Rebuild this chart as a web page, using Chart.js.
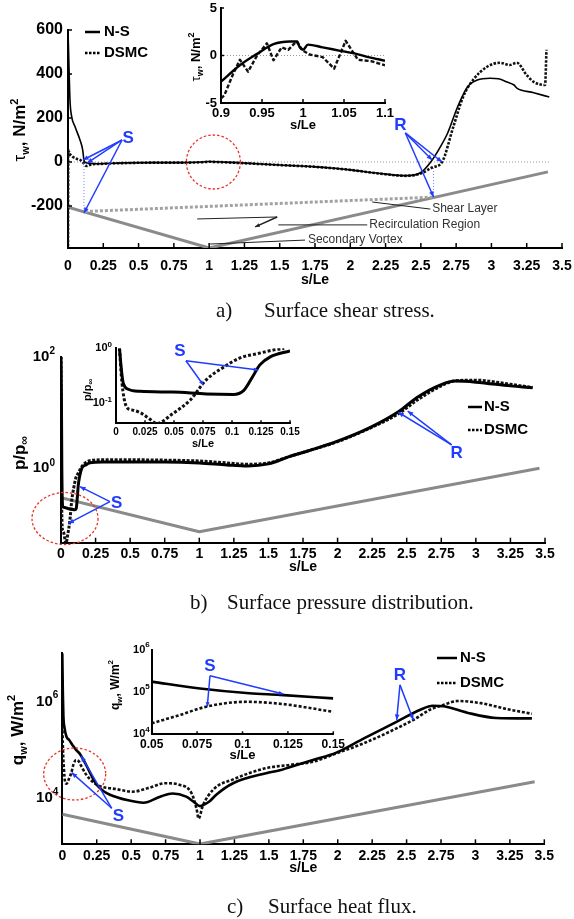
<!DOCTYPE html>
<html><head><meta charset="utf-8">
<style>
html,body{margin:0;padding:0;background:#fff;}
body{width:574px;height:919px;position:relative;overflow:hidden;}
canvas{position:absolute;left:0;top:0;}
.cap{position:absolute;font-family:"Liberation Serif","Times New Roman",serif;font-size:21px;line-height:24px;color:#111;white-space:pre;}
</style>
<script src="https://cdn.jsdelivr.net/npm/chart.js@4/dist/chart.umd.min.js"></script>
</head><body>
<canvas id="ca" width="574" height="919"></canvas>
<canvas id="cai" width="574" height="919"></canvas>
<canvas id="cb" width="574" height="919"></canvas>
<canvas id="cbi" width="574" height="919"></canvas>
<canvas id="cc" width="574" height="919"></canvas>
<canvas id="cci" width="574" height="919"></canvas>
<div class="cap" style="left:216px;top:298px">a)</div><div class="cap" style="left:264px;top:298px">Surface shear stress.</div>
<div class="cap" style="left:190px;top:590px">b)</div><div class="cap" style="left:227px;top:590px">Surface pressure distribution.</div>
<div class="cap" style="left:227px;top:894px">c)</div><div class="cap" style="left:268px;top:894px">Surface heat flux.</div>
<script>
// ================= DATA =================
// (a) wall shear stress tau_w [N/m^2] vs s/Le
const aNsS   = [0,0.007,0.014,0.026,0.05,0.085,0.104,0.113,0.125,0.15,0.2,0.4,0.6,0.8,0.95,1.0,1.05,1.2,1.5,1.75,1.86,2.0,2.21,2.4,2.5,2.57,2.63,2.69,2.76,2.83,2.9,2.99,3.05,3.11,3.16,3.18,3.3,3.41];
const aNsTau = [600,433,282,206,160,100,55,9,-3,-6,-8,-4,-3,-3,0,2,1,-3,-14,-22,-27,-36,-52,-62,-48,0,60,132,250,341,373,381,378,364,350,336,315,295];
const aDsS   = [0,0.002,0.01,0.03,0.06,0.09,0.11,0.13,0.16,0.25,0.4,0.6,0.8,0.95,1.0,1.05,1.2,1.5,1.75,2.0,2.2,2.4,2.5,2.58,2.65,2.73,2.8,2.87,2.97,3.06,3.13,3.18,3.25,3.3,3.38,3.39];
const aDsTau = [-400,55,40,25,15,8,-5,-18,-12,-8,-5,-3,-3,-1,1,0,-4,-14,-22,-36,-52,-63,-52,-25,0,160,297,373,433,451,441,451,395,364,350,510];
const aGeoS  = [0,1,3.4];
const aGeoY  = [-205,-391,-45];
const aShearS = [0.12,2.58];
const aShearY = [-225,-160];
const aZeroS = [0,3.42];
const aXTicks = [0,0.25,0.5,0.75,1,1.25,1.5,1.75,2,2.25,2.5,2.75,3,3.25,3.5];
const aYTicks = [-200,0,200,400,600];
// (a) inset
const aiNsS   = [0.9,0.923,0.944,0.964,0.984,0.993,0.996,1.0,1.006,1.024,1.044,1.065,1.08,1.1];
const aiNsTau = [-2.76,-1.03,0.17,1.2,1.48,1.48,0.86,0.6,1.14,0.86,0.52,0.17,-0.17,-0.55];
const aiDsS   = [0.9,0.904,0.915,0.923,0.933,0.944,0.956,0.964,0.974,0.982,0.992,1.0,1.008,1.024,1.038,1.052,1.067,1.083,1.1];
const aiDsTau = [-4.5,-4.2,-1.9,-0.45,-1.7,0,1.28,-0.5,0.86,0.6,1.48,0.5,0.1,-0.17,-1.38,1.55,-0.45,-0.6,-1.03];
const aiZeroS = [0.9,1.1];
const aiXTicks = [0.9,0.95,1,1.05,1.1];
const aiYTicks = [-5,0,5];
// (b) pressure p/p_inf
const bNsS = [0,0.003,0.006,0.008,0.012,0.02,0.05,0.08,0.1,0.11,0.118,0.125,0.135,0.15,0.18,0.21,0.3,0.5,0.75,1.0,1.2,1.35,1.5,1.66,1.8,1.99,2.23,2.44,2.58,2.75,2.85,3.0,3.25,3.41];
const bNsP = [100,20,1.0,0.35,0.21,0.2,0.19,0.185,0.18,0.19,0.3,0.5,0.72,1.0,1.15,1.25,1.3,1.3,1.3,1.25,1.15,1.1,1.2,1.65,2.1,3.0,5.3,10.3,19,31.7,36.5,35,30,27.7];
const bDsS = [0,0.002,0.005,0.009,0.0135,0.021,0.028,0.035,0.049,0.064,0.078,0.0925,0.107,0.121,0.139,0.16,0.2,0.3,0.5,0.75,1.0,1.2,1.35,1.5,1.66,1.8,2.0,2.23,2.44,2.58,2.75,2.85,3.0,3.25,3.41];
const bDsP = [100,5,0.25,0.087,0.076,0.068,0.054,0.045,0.065,0.115,0.27,0.45,0.67,0.79,0.96,1.15,1.35,1.42,1.42,1.4,1.35,1.25,1.18,1.25,1.65,2.1,3.0,5.2,9.5,17,30,37,38,32,28];
const bGeoS = [0,1,3.46];
const bGeoP = [0.297,0.073,1.0];
const bXTicks = aXTicks;
const bYExp = [0,2];
// (b) inset
const biNsS = [0.003,0.005,0.0063,0.0106,0.0207,0.049,0.078,0.101,0.11,0.118,0.124,0.133,0.15];
const biNsP = [1.0,0.35,0.23,0.18,0.165,0.16,0.148,0.145,0.17,0.31,0.5,0.7,0.9];
const biDsS = [0.003,0.005,0.009,0.0135,0.0207,0.028,0.035,0.049,0.064,0.078,0.0925,0.107,0.121,0.139,0.145];
const biDsP = [1.0,0.25,0.087,0.076,0.068,0.054,0.043,0.065,0.115,0.27,0.45,0.67,0.79,0.96,0.99];
const biXTicks = [0,0.025,0.05,0.075,0.1,0.125,0.15];
const biYExp = [-1,0];
// (c) heat flux q_w [W/m^2]
const cNsS = [0,0.004,0.008,0.015,0.03,0.05,0.075,0.1,0.125,0.15,0.18,0.21,0.25,0.3,0.35,0.47,0.59,0.71,0.8,0.9,0.96,1.0,1.03,1.07,1.12,1.24,1.48,1.58,1.65,1.82,1.99,2.19,2.43,2.6,2.69,2.77,2.94,3.15,3.41];
const cNsQ = [1e7,1.5e6,5e5,3e5,1.9e5,1.6e5,1.25e5,1.0e5,8.5e4,6.5e4,4.5e4,3e4,1.9e4,1.4e4,1.17e4,9200,8100,10800,12600,10800,8200,6900,7400,8700,12000,20500,33000,38000,44000,62000,88000,174000,386000,680000,820000,800000,590000,460000,450000];
const cDsS = [0,0.005,0.012,0.02,0.03,0.05,0.066,0.08,0.1,0.12,0.14,0.17,0.22,0.27,0.39,0.51,0.63,0.75,0.85,0.94,0.975,0.99,1.02,1.1,1.24,1.48,1.65,1.82,1.99,2.19,2.43,2.55,2.67,2.77,2.87,3.04,3.23,3.41];
const cDsQ = [4e5,1e5,4e4,2.2e4,2.0e4,2.6e4,3.4e4,4.9e4,6.2e4,5.8e4,4.5e4,3.2e4,2.2e4,1.8e4,1.55e4,1.37e4,1.65e4,2.05e4,1.9e4,1.25e4,6000,3800,7000,15500,24600,42000,49000,57000,85000,138000,282000,420000,680000,860000,1030000,930000,700000,560000];
const cGeoS = [0,1,3.43];
const cGeoQ = [4660,1130,22000];
const cXTicks = aXTicks;
const cYExp = [4,6];
// (c) inset
const ciNsS = [0.05,0.0766,0.1037,0.1206,0.15];
const ciNsQ = [1.78e5,1.22e5,9.4e4,8.6e4,7.1e4];
const ciDsS = [0.05,0.0655,0.08,0.102,0.1225,0.15];
const ciDsQ = [1.82e4,2.87e4,4.52e4,5.9e4,5.2e4,3.4e4];
const ciXTicks = [0.05,0.075,0.1,0.125,0.15];
const ciYExp = [4,5,6];

// ================= HELPERS =================
const FF = '"Liberation Sans", Arial, sans-serif';
const BLUE = '#1f3cff', RED = '#e8332a', GEO = '#8a8a8a';
const f = (sz, b) => (b ? 'bold ' : '') + sz + 'px ' + FF;

function pts(xs, ys){ return xs.map((x,i)=>({x:x, y:ys[i]})); }
function line(xs, ys, color, width, dash, smooth){
  return {data:pts(xs,ys), borderColor:color, borderWidth:width, borderDash:dash||[],
    pointRadius:0, fill:false, tension: smooth===false?0:0.4,
    cubicInterpolationMode: smooth===false?'default':'monotone',
    borderCapStyle:'butt', borderJoinStyle:'round'};
}
function P(c, x, y){ return [c.scales.x.getPixelForValue(x), c.scales.y.getPixelForValue(y)]; }
function rich(ctx, parts, x, y, rot, align){
  ctx.save(); ctx.translate(x,y); if(rot) ctx.rotate(rot);
  ctx.textBaseline='alphabetic'; ctx.textAlign='left'; ctx.fillStyle='#000';
  let w=0; parts.forEach(p=>{ctx.font=p[1]; w+=ctx.measureText(p[0]).width;});
  let cx = align==='left'?0:(align==='right'?-w:-w/2);
  parts.forEach(p=>{ctx.font=p[1]; ctx.fillText(p[0],cx,p[2]); cx+=ctx.measureText(p[0]).width;});
  ctx.restore();
}
function text(ctx, s, x, y, font, color, align){
  ctx.save(); ctx.font=font; ctx.fillStyle=color||'#000'; ctx.textAlign=align||'left'; ctx.textBaseline='middle';
  ctx.fillText(s,x,y); ctx.restore();
}
function seg(ctx, a, b, color, w, dash){
  ctx.save(); ctx.strokeStyle=color; ctx.lineWidth=w; ctx.setLineDash(dash||[]);
  ctx.beginPath(); ctx.moveTo(a[0],a[1]); ctx.lineTo(b[0],b[1]); ctx.stroke(); ctx.restore();
}
function arrow(ctx, a, b, color, head){
  head = head||6;
  seg(ctx, a, b, color, 1.5);
  const t=Math.atan2(b[1]-a[1], b[0]-a[0]);
  ctx.save(); ctx.fillStyle=color; ctx.beginPath(); ctx.moveTo(b[0],b[1]);
  ctx.lineTo(b[0]-head*Math.cos(t-0.4), b[1]-head*Math.sin(t-0.4));
  ctx.lineTo(b[0]-head*Math.cos(t+0.4), b[1]-head*Math.sin(t+0.4));
  ctx.closePath(); ctx.fill(); ctx.restore();
}
function ellipse(ctx, c, rx, ry){
  ctx.save(); ctx.strokeStyle=RED; ctx.lineWidth=1.3; ctx.setLineDash([2.5,2]);
  ctx.beginPath(); ctx.ellipse(c[0],c[1],rx,ry,0,0,Math.PI*2); ctx.stroke(); ctx.restore();
}
function xTicksIn(c, len){
  const ctx=c.ctx, xs=c.scales.x, a=c.chartArea;
  ctx.save(); ctx.strokeStyle='#000'; ctx.lineWidth=1.5;
  xs.ticks.forEach(t=>{const px=xs.getPixelForValue(t.value); ctx.beginPath(); ctx.moveTo(px,a.bottom); ctx.lineTo(px,a.bottom-len); ctx.stroke();});
  ctx.restore();
}
function yTicksIn(c, vals, len){
  const ctx=c.ctx, ys=c.scales.y, a=c.chartArea;
  ctx.save(); ctx.strokeStyle='#000'; ctx.lineWidth=1.5;
  vals.forEach(v=>{const py=ys.getPixelForValue(v); ctx.beginPath(); ctx.moveTo(a.left,py); ctx.lineTo(a.left+len,py); ctx.stroke();});
  ctx.restore();
}
function logLabels(c, exps, sz, ssz, pad, sdy){
  const ctx=c.ctx, ys=c.scales.y, a=c.chartArea;
  ctx.save(); ctx.fillStyle='#000'; ctx.textBaseline='middle'; ctx.textAlign='left';
  exps.forEach(e=>{
    const py=ys.getPixelForValue(Math.pow(10,e));
    ctx.font=f(ssz,true); const ws=ctx.measureText(String(e)).width;
    ctx.font=f(sz,true); const wb=ctx.measureText('10').width;
    const x0=a.left-pad-ws-wb;
    ctx.fillText('10',x0,py); ctx.font=f(ssz,true); ctx.fillText(String(e),x0+wb,py+sdy);
  });
  ctx.restore();
}
function legend(ctx, x1, x2, y1, y2, tx, sz, lw){
  seg(ctx,[x1,y1],[x2,y1],'#000',lw);
  seg(ctx,[x1,y2],[x2,y2],'#000',lw,[2.5,1.5]);
  text(ctx,'N-S',tx,y1,f(sz,true));
  text(ctx,'DSMC',tx,y2,f(sz,true));
}

function build(id, area, o){
  const YW=o.yw||44, XH=22;
  return new Chart(document.getElementById(id), {
    type:'line',
    data:{datasets:o.datasets},
    options:{
      responsive:false, animation:false, devicePixelRatio:1,
      layout:{padding:{left:area.l-YW, top:area.t, right:574-area.r, bottom:919-area.b-XH}},
      plugins:{legend:{display:false}, tooltip:{enabled:false}},
      elements:{point:{radius:0}},
      scales:{
        x:{type:'linear', min:o.xmin, max:o.xmax,
          grid:{display:false, drawTicks:false},
          border:{display:true, color:'#000', width:2},
          ticks:{color:'#000', font:{family:FF, size:o.xfs, weight:'bold'}, padding:o.xpad, maxRotation:0, autoSkip:false, callback:v=>String(v)},
          afterBuildTicks:s=>{s.ticks=o.xticks.map(v=>({value:v}));},
          afterFit:s=>{s.height=XH; s.paddingLeft=0; s.paddingRight=0;}},
        y:{type:o.ytype||'linear', min:o.ymin, max:o.ymax,
          grid:{display:false, drawTicks:false},
          border:{display:true, color:'#000', width:2},
          ticks:{display:!o.log, color:'#000', font:{family:FF, size:o.yfs||12, weight:'bold'}, padding:o.ypad||4, autoSkip:false, callback:v=>String(v)},
          afterBuildTicks:s=>{s.ticks=o.yticks.map(v=>({value:v}));},
          afterFit:s=>{s.width=YW; s.paddingTop=0; s.paddingBottom=0;}}
      }
    },
    plugins:[{id:'deco', afterDraw:c=>o.draw(c)}]
  });
}

// ================= PANEL A =================
build('ca', {l:68,t:30,r:562,b:248}, {
  xmin:0, xmax:3.5, ymin:-391, ymax:600, xticks:aXTicks, yticks:aYTicks,
  xfs:14, xpad:10, yfs:16, ypad:5,
  datasets:[
    line(aNsS,aNsTau,'#000',1.6),
    line(aDsS,aDsTau,'#111',2.6,[2.5,1.5]),
    line(aZeroS,[0,0],'#999',1,[1,2],false),
    line(aShearS,aShearY,'#a2a2a2',3,[3,2],false),
    line(aGeoS,aGeoY,GEO,3,[],false)
  ],
  draw:c=>{
    const ctx=c.ctx, a=c.chartArea;
    xTicksIn(c,5); yTicksIn(c,aYTicks,4);
    rich(ctx,[['τ',f(17,false),5],['w',f(11,true),9],[', N/m',f(17,true),5],['2',f(11,true),-2]],20,130,-Math.PI/2,'center');
    text(ctx,'s/Le',(a.left+a.right)/2,280,f(14,true),'#000','center');
    legend(ctx,85,100,32,53,104,15,2.5);
    // blue dotted guides
    seg(ctx,P(c,0.113,-5),P(c,0.113,-232),'#6d7dff',1,[1,2]);
    seg(ctx,P(c,2.59,-27),P(c,2.59,-159),'#6d7dff',1,[1,2]);
    // S
    let o=P(c,0.383,100);
    arrow(ctx,o,P(c,0.106,9),BLUE); arrow(ctx,o,P(c,0.135,-5),BLUE); arrow(ctx,o,P(c,0.113,-232),BLUE);
    let l=P(c,0.426,109); text(ctx,'S',l[0],l[1],f(17,true),BLUE,'center');
    // R
    o=P(c,2.39,132);
    arrow(ctx,o,P(c,2.58,9),BLUE); arrow(ctx,o,P(c,2.65,0),BLUE); arrow(ctx,o,P(c,2.59,-159),BLUE);
    l=P(c,2.355,168); text(ctx,'R',l[0],l[1],f(17,true),BLUE,'center');
    // red circle
    ellipse(ctx,P(c,1.03,0),27,27);
    // flow annotations
    seg(ctx,P(c,2.156,-182),P(c,2.567,-214),'#222',1);
    l=P(c,2.58,-214); text(ctx,'Shear Layer',l[0],l[1],f(12,false),'#333');
    seg(ctx,P(c,0.915,-259),P(c,1.482,-250),'#222',1);
    arrow(ctx,P(c,1.482,-250),P(c,1.326,-295),'#222',5);
    seg(ctx,P(c,1.49,-286),P(c,2.12,-286),'#222',1);
    l=P(c,2.135,-286); text(ctx,'Recirculation Region',l[0],l[1],f(12,false),'#333');
    seg(ctx,P(c,1.007,-373),P(c,1.68,-355),'#222',1);
    l=P(c,1.70,-355); text(ctx,'Secondary Vortex',l[0],l[1],f(12,false),'#333');
  }
});
// inset a
build('cai', {l:221,t:8,r:385,b:103}, {
  yw:30, xmin:0.9, xmax:1.1, ymin:-5, ymax:5, xticks:aiXTicks, yticks:aiYTicks,
  xfs:13, xpad:3, yfs:13, ypad:4,
  datasets:[
    line(aiNsS,aiNsTau,'#000',2.4),
    line(aiDsS,aiDsTau,'#111',2.4,[4,2],false),
    line(aiZeroS,[0,0],'#999',1,[1,2],false)
  ],
  draw:c=>{
    const ctx=c.ctx, a=c.chartArea;
    xTicksIn(c,4); yTicksIn(c,aiYTicks,3);
    rich(ctx,[['τ',f(13,false),4],['w',f(9,true),7],[', N/m',f(13,true),4],['2',f(9,true),-2]],196,57,-Math.PI/2,'center');
    text(ctx,'s/Le',(a.left+a.right)/2,125,f(13,true),'#000','center');
  }
});

// ================= PANEL B =================
build('cb', {l:61,t:356.7,r:545,b:542.7}, {
  xmin:0, xmax:3.5, ytype:'logarithmic', ymin:0.0464, ymax:100, xticks:bXTicks, yticks:[0.1,1,10,100], log:true,
  xfs:14, xpad:3,
  datasets:[
    line(bNsS,bNsP,'#000',3),
    line(bDsS,bDsP,'#111',3,[3,1.5]),
    line(bGeoS,bGeoP,GEO,3,[],false)
  ],
  draw:c=>{
    const ctx=c.ctx, a=c.chartArea;
    xTicksIn(c,5);
    logLabels(c,bYExp,15,10,6,-5);
    rich(ctx,[['p/p',f(17,true),6],['∞',f(12,true),9]],19,453,-Math.PI/2,'center');
    text(ctx,'s/Le',(a.left+a.right)/2,567,f(14,true),'#000','center');
    legend(ctx,468,482,407,430,484,15,2.5);
    ellipse(ctx,P(c,0.029,0.126),33,26);
    let o=P(c,0.354,0.252);
    arrow(ctx,o,P(c,0.137,0.468),BLUE); arrow(ctx,o,P(c,0.053,0.103),BLUE);
    let l=P(c,0.403,0.236); text(ctx,'S',l[0],l[1],f(17,true),BLUE,'center');
    o=P(c,2.825,2.62);
    arrow(ctx,o,P(c,2.439,10.1),BLUE); arrow(ctx,o,P(c,2.507,10.6),BLUE);
    l=P(c,2.861,1.86); text(ctx,'R',l[0],l[1],f(17,true),BLUE,'center');
  }
});
// inset b
build('cbi', {l:116,t:348.3,r:290,b:423.3}, {
  yw:30, xmin:0, xmax:0.15, ytype:'logarithmic', ymin:0.0433, ymax:1, xticks:biXTicks, yticks:[0.1,1], log:true,
  xfs:10, xpad:3,
  datasets:[
    line(biNsS,biNsP,'#000',3),
    line(biDsS,biDsP,'#111',3,[3,2])
  ],
  draw:c=>{
    const ctx=c.ctx, a=c.chartArea;
    xTicksIn(c,3);
    logLabels(c,biYExp,11,8,4,-4);
    rich(ctx,[['p/p',f(11,true),4],['∞',f(8,true),6]],87,390,-Math.PI/2,'center');
    text(ctx,'s/Le',(a.left+a.right)/2,444,f(11,true),'#000','center');
    const o=P(c,0.0603,0.595);
    arrow(ctx,o,P(c,0.0753,0.215),BLUE,5); arrow(ctx,o,P(c,0.1227,0.403),BLUE,5);
    const l=P(c,0.0552,0.867); text(ctx,'S',l[0],l[1],f(17,true),BLUE,'center');
  }
});

// ================= PANEL C =================
build('cc', {l:62.3,t:653.3,r:544.3,b:844.3}, {
  xmin:0, xmax:3.5, ytype:'logarithmic', ymin:1117, ymax:1e7, xticks:cXTicks, yticks:[1e4,1e6], log:true,
  xfs:14, xpad:3,
  datasets:[
    line(cNsS,cNsQ,'#000',2.6),
    line(cDsS,cDsQ,'#111',2.6,[3,1.8]),
    line(cGeoS,cGeoQ,GEO,3,[],false)
  ],
  draw:c=>{
    const ctx=c.ctx, a=c.chartArea;
    xTicksIn(c,5);
    logLabels(c,cYExp,15,10,4,-6);
    rich(ctx,[['q',f(17,true),6],['w',f(11,true),10],[', W/m',f(17,true),6],['2',f(11,true),-2]],17,730,-Math.PI/2,'center');
    text(ctx,'s/Le',(a.left+a.right)/2,868,f(14,true),'#000','center');
    legend(ctx,437,457,658,683,460,15,2.5);
    ellipse(ctx,P(c,0.09,31800),31,26);
    let o=P(c,0.359,6210);
    arrow(ctx,o,P(c,0.136,75100),BLUE); arrow(ctx,o,P(c,0.068,33900),BLUE);
    let l=P(c,0.407,4160); text(ctx,'S',l[0],l[1],f(17,true),BLUE,'center');
    o=P(c,2.452,2.22e6);
    arrow(ctx,o,P(c,2.428,418000),BLUE); arrow(ctx,o,P(c,2.549,418000),BLUE);
    l=P(c,2.452,3.57e6); text(ctx,'R',l[0],l[1],f(17,true),BLUE,'center');
  }
});
// inset c
build('cci', {l:151.7,t:650,r:333.3,b:734.3}, {
  yw:30, xmin:0.05, xmax:0.15, ytype:'logarithmic', ymin:1e4, ymax:1e6, xticks:ciXTicks, yticks:[1e4,1e5,1e6], log:true,
  xfs:12, xpad:3,
  datasets:[
    line(ciNsS,ciNsQ,'#000',2.6),
    line(ciDsS,ciDsQ,'#111',2.6,[3,2])
  ],
  draw:c=>{
    const ctx=c.ctx, a=c.chartArea;
    xTicksIn(c,3);
    logLabels(c,ciYExp,11,8,2,-5);
    rich(ctx,[['q',f(12,true),4],['w',f(8,true),7],[', W/m',f(12,true),4],['2',f(8,true),-2]],115,685,-Math.PI/2,'center');
    text(ctx,'s/Le',(a.left+a.right)/2,755,f(13,true),'#000','center');
    const o=P(c,0.0821,2.45e5);
    arrow(ctx,o,P(c,0.0806,45200),BLUE,5); arrow(ctx,o,P(c,0.1225,90300),BLUE,5);
    const l=P(c,0.0821,4.02e5); text(ctx,'S',l[0],l[1],f(17,true),BLUE,'center');
  }
});
</script>
</body></html>
